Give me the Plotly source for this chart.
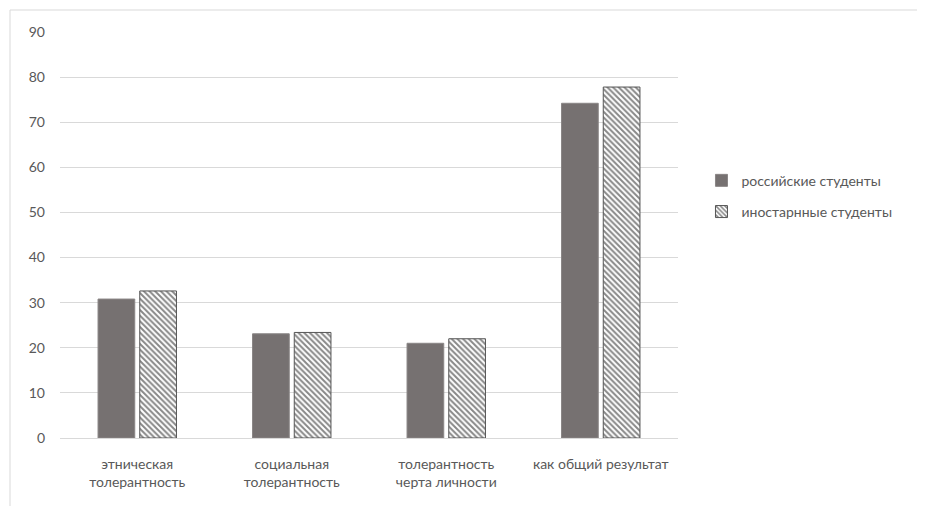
import plotly.graph_objects as go

categories = ["этническая<br>толерантность", "социальная<br>толерантность",
              "толерантность<br>черта личности", "как общий результат"]
russian = [30.8, 23.1, 21.0, 74.2]
foreign = [32.6, 23.4, 22.0, 77.8]
series_names = ["российские студенты", "иностарнные студенты"]
y_ticks = [0, 10, 20, 30, 40, 50, 60, 70, 80, 90]

font_color = "#595959"
fig = go.Figure()
fig.add_trace(go.Bar(
    x=categories, y=russian, name=series_names[0], legendgroup="a",
    marker=dict(color="#767171", line=dict(color="#8a8686", width=1)),
))
fig.add_trace(go.Bar(
    x=categories, y=foreign, name=series_names[1], legendgroup="b",
    marker=dict(color="white", line=dict(color="#555555", width=1),
                pattern=dict(shape="\\", fgcolor="#111111", bgcolor="white",
                             size=4, solidity=0.5)),
))

fig.update_layout(
    width=925, height=506,
    margin=dict(l=52, r=255, t=24, b=76),
    paper_bgcolor="white", plot_bgcolor="white",
    font=dict(family="Lato, Noto Sans, sans-serif", size=14, color=font_color),
    barmode="group", bargap=0.46, bargroupgap=0.12,
    showlegend=True,
    legend=dict(x=1.038, y=0.673, xanchor="left", yanchor="top",
                font=dict(size=14, color=font_color), tracegroupgap=10,
                bgcolor="rgba(0,0,0,0)"),
    xaxis=dict(showgrid=False, showline=False, ticks="", tickfont=dict(size=14, color=font_color),
               ticklabelstandoff=16),
    yaxis=dict(range=[0, 90], tickvals=y_ticks, showgrid=True, gridcolor="#d9d9d9",
               gridwidth=1, zeroline=True, zerolinecolor="#d9d9d9", zerolinewidth=1,
               showline=False, ticks="", tickfont=dict(size=14, color=font_color),
               ticklabelstandoff=14),
    shapes=[dict(type="rect", xref="paper", yref="paper",
                 x0=-50/618, x1=1000/618, y0=-200/406, y1=1 + 22/406,
                 line=dict(color="#d9d9d9", width=1), fillcolor="rgba(0,0,0,0)", layer="below")],
)
fig.write_html("out.html")
